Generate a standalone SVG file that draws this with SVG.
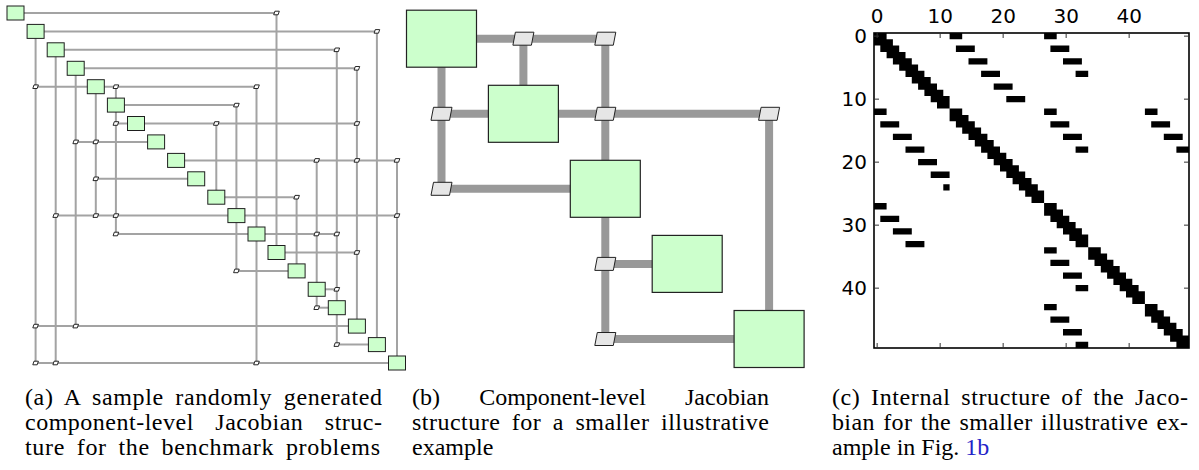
<svg xmlns="http://www.w3.org/2000/svg" width="1199" height="470" viewBox="0 0 1199 470">
  <defs>
    <style>
      .wa{stroke:#a3a3a3;stroke-width:2;fill:none}
      .na{fill:#ccffcc;stroke:#1e1e1e;stroke-width:1}
      .ja{fill:#ffffff;stroke:#111111;stroke-width:0.9}
      .wb{stroke:#999999;stroke-width:8;fill:none}
      .nb{fill:#ccffcc;stroke:#222222;stroke-width:1.2}
      .jb{fill:#e6e6e6;stroke:#222222;stroke-width:1}
      .cell{fill:#000000}
      .frame{fill:none;stroke:#000000;stroke-width:1.6}
      .tick{stroke:#333333;stroke-width:1}
      .lab{font-family:"DejaVu Sans",sans-serif;font-size:20px;fill:#000000}
      .cap{font-family:"Liberation Serif","Times New Roman",serif;font-size:24px;fill:#000000}
    </style>
    <path id="jaShape" d="M-2.8 1.8 L-1.6 -1.8 L2.8 -1.8 L1.6 1.8 Z"/>
    <path id="jbShape" d="M-8 -6.5 L10.5 -6.5 L8 6.5 L-10.5 6.5 Z"/>
  </defs>

  <!-- ===== Panel (a): 20-component random structure ===== -->
  <g id="a-connectors">
    <!-- rows -->
    <path class="wa" d="M15.5 13H276.5"/>
    <path class="wa" d="M35.6 31.4H376.9"/>
    <path class="wa" d="M55.7 49.8H336.8"/>
    <path class="wa" d="M75.7 68.3H356.9"/>
    <path class="wa" d="M35.6 86.7H256.5"/>
    <path class="wa" d="M115.9 105.1H236.4"/>
    <path class="wa" d="M115.9 123.5H356.9"/>
    <path class="wa" d="M75.7 141.9H156.1"/>
    <path class="wa" d="M176.1 160.4H397"/>
    <path class="wa" d="M95.8 178.8H196.2"/>
    <path class="wa" d="M216.3 197.2H296.6"/>
    <path class="wa" d="M55.7 215.6H397"/>
    <path class="wa" d="M115.9 234H336.8"/>
    <path class="wa" d="M276.5 252.5H356.9"/>
    <path class="wa" d="M236.4 270.9H296.6"/>
    <path class="wa" d="M316.7 289.3H336.8"/>
    <path class="wa" d="M316.7 307.7H336.8"/>
    <path class="wa" d="M35.6 326.1H356.9"/>
    <path class="wa" d="M336.8 344.6H376.9"/>
    <path class="wa" d="M35.6 363H397"/>
    <!-- columns -->
    <path class="wa" d="M35.6 31.4V363"/>
    <path class="wa" d="M55.7 49.8V363"/>
    <path class="wa" d="M75.7 68.3V326.1"/>
    <path class="wa" d="M95.8 86.7V215.6"/>
    <path class="wa" d="M115.9 86.7V234"/>
    <path class="wa" d="M216.3 123.5V197.2"/>
    <path class="wa" d="M236.4 105.1V270.9"/>
    <path class="wa" d="M256.5 86.7V363"/>
    <path class="wa" d="M276.5 13V252.5"/>
    <path class="wa" d="M296.6 197.2V270.9"/>
    <path class="wa" d="M316.7 160.4V307.7"/>
    <path class="wa" d="M336.8 49.8V344.6"/>
    <path class="wa" d="M356.9 68.3V326.1"/>
    <path class="wa" d="M376.9 31.4V344.6"/>
    <path class="wa" d="M397 160.4V363"/>
  </g>

  <g id="a-junctions" class="ja">
    <use id="aj-0-13" href="#jaShape" x="276.5" y="13"/>
    <use id="aj-1-18" href="#jaShape" x="376.9" y="31.4"/>
    <use id="aj-2-16" href="#jaShape" x="336.8" y="49.8"/>
    <use id="aj-3-17" href="#jaShape" x="356.9" y="68.3"/>
    <use id="aj-4-1" href="#jaShape" x="35.6" y="86.7"/>
    <use id="aj-4-5" href="#jaShape" x="115.9" y="86.7"/>
    <use id="aj-4-12" href="#jaShape" x="256.5" y="86.7"/>
    <use id="aj-5-11" href="#jaShape" x="236.4" y="105.1"/>
    <use id="aj-6-5" href="#jaShape" x="115.9" y="123.5"/>
    <use id="aj-6-10" href="#jaShape" x="216.3" y="123.5"/>
    <use id="aj-6-17" href="#jaShape" x="356.9" y="123.5"/>
    <use id="aj-7-3" href="#jaShape" x="75.7" y="141.9"/>
    <use id="aj-7-4" href="#jaShape" x="95.8" y="141.9"/>
    <use id="aj-8-15" href="#jaShape" x="316.7" y="160.4"/>
    <use id="aj-8-17" href="#jaShape" x="356.9" y="160.4"/>
    <use id="aj-8-19" href="#jaShape" x="397" y="160.4"/>
    <use id="aj-9-4" href="#jaShape" x="95.8" y="178.8"/>
    <use id="aj-10-14" href="#jaShape" x="296.6" y="197.2"/>
    <use id="aj-11-2" href="#jaShape" x="55.7" y="215.6"/>
    <use id="aj-11-4" href="#jaShape" x="95.8" y="215.6"/>
    <use id="aj-11-5" href="#jaShape" x="115.9" y="215.6"/>
    <use id="aj-11-19" href="#jaShape" x="397" y="215.6"/>
    <use id="aj-12-5" href="#jaShape" x="115.9" y="234"/>
    <use id="aj-12-15" href="#jaShape" x="316.7" y="234"/>
    <use id="aj-12-16" href="#jaShape" x="336.8" y="234"/>
    <use id="aj-13-17" href="#jaShape" x="356.9" y="252.5"/>
    <use id="aj-14-11" href="#jaShape" x="236.4" y="270.9"/>
    <use id="aj-15-16" href="#jaShape" x="336.8" y="289.3"/>
    <use id="aj-16-15" href="#jaShape" x="316.7" y="307.7"/>
    <use id="aj-17-1" href="#jaShape" x="35.6" y="326.1"/>
    <use id="aj-17-3" href="#jaShape" x="75.7" y="326.1"/>
    <use id="aj-18-16" href="#jaShape" x="336.8" y="344.6"/>
    <use id="aj-19-1" href="#jaShape" x="35.6" y="363"/>
    <use id="aj-19-2" href="#jaShape" x="55.7" y="363"/>
    <use id="aj-19-12" href="#jaShape" x="256.5" y="363"/>
  </g>

  <g id="a-nodes" class="na">
    <g id="a0"><rect x="7" y="6" width="17" height="14"/></g>
    <g id="a1"><rect x="27.1" y="24.4" width="17" height="14"/></g>
    <g id="a2"><rect x="47.2" y="42.8" width="17" height="14"/></g>
    <g id="a3"><rect x="67.2" y="61.3" width="17" height="14"/></g>
    <g id="a4"><rect x="87.3" y="79.7" width="17" height="14"/></g>
    <g id="a5"><rect x="107.4" y="98.1" width="17" height="14"/></g>
    <g id="a6"><rect x="127.5" y="116.5" width="17" height="14"/></g>
    <g id="a7"><rect x="147.6" y="134.9" width="17" height="14"/></g>
    <g id="a8"><rect x="167.6" y="153.4" width="17" height="14"/></g>
    <g id="a9"><rect x="187.7" y="171.8" width="17" height="14"/></g>
    <g id="a10"><rect x="207.8" y="190.2" width="17" height="14"/></g>
    <g id="a11"><rect x="227.9" y="208.6" width="17" height="14"/></g>
    <g id="a12"><rect x="248" y="227" width="17" height="14"/></g>
    <g id="a13"><rect x="268" y="245.5" width="17" height="14"/></g>
    <g id="a14"><rect x="288.1" y="263.9" width="17" height="14"/></g>
    <g id="a15"><rect x="308.2" y="282.3" width="17" height="14"/></g>
    <g id="a16"><rect x="328.3" y="300.7" width="17" height="14"/></g>
    <g id="a17"><rect x="348.4" y="319.1" width="17" height="14"/></g>
    <g id="a18"><rect x="368.4" y="337.6" width="17" height="14"/></g>
    <g id="a19"><rect x="388.5" y="356" width="17" height="14"/></g>
  </g>

  <!-- ===== Panel (b): five-component example ===== -->
  <g id="b-connectors">
    <path class="wb" d="M441.5 38.7H605.3"/>
    <path class="wb" d="M523.4 38.7V113.8"/>
    <path class="wb" d="M605.3 38.7V188.8"/>
    <path class="wb" d="M605.3 188.8V339"/>
    <path class="wb" d="M441.5 38.7V188.8"/>
    <path class="wb" d="M441.5 113.8H769.1"/>
    <path class="wb" d="M769.1 113.8V339"/>
    <path class="wb" d="M441.5 188.8H605.3"/>
    <path class="wb" d="M605.3 263.9H687.2"/>
    <path class="wb" d="M605.3 339H769.1"/>
  </g>

  <g id="b-junctions" class="jb">
    <g id="bj1"><use href="#jbShape" x="523.4" y="38.7"/></g>
    <g id="bj2"><use href="#jbShape" x="605.3" y="38.7"/></g>
    <g id="bj3"><use href="#jbShape" x="441.5" y="113.8"/></g>
    <g id="bj4"><use href="#jbShape" x="605.3" y="113.8"/></g>
    <g id="bj5"><use href="#jbShape" x="769.1" y="113.8"/></g>
    <g id="bj6"><use href="#jbShape" x="441.5" y="188.8"/></g>
    <g id="bj7"><use href="#jbShape" x="605.3" y="263.9"/></g>
    <g id="bj8"><use href="#jbShape" x="605.3" y="339"/></g>
  </g>

  <g id="b-nodes" class="nb">
    <g id="b1"><rect x="406.5" y="10.2" width="70" height="57"/></g>
    <g id="b2"><rect x="488.4" y="85.3" width="70" height="57"/></g>
    <g id="b3"><rect x="570.3" y="160.3" width="70" height="57"/></g>
    <g id="b4"><rect x="652.2" y="235.4" width="70" height="57"/></g>
    <g id="b5"><rect x="734.1" y="310.5" width="70" height="57"/></g>
  </g>

  <!-- ===== Panel (c): 50x50 sparsity pattern ===== -->
  <g id="c-plot">
    <g transform="translate(874 33) scale(6.3)">
      <!-- diagonal blocks (tridiagonal within each component) -->
      <path class="cell" d="M0 0h2v1h-2z M0 1h3v1h-3z M1 2h3v1h-3z M2 3h3v1h-3z M3 4h3v1h-3z M4 5h3v1h-3z M5 6h3v1h-3z M6 7h3v1h-3z M7 8h3v1h-3z M8 9h3v1h-3z M9 10h3v1h-3z M10 11h2v1h-2z
        M12 12h2v1h-2z M12 13h3v1h-3z M13 14h3v1h-3z M14 15h3v1h-3z M15 16h3v1h-3z M16 17h3v1h-3z M17 18h3v1h-3z M18 19h3v1h-3z M19 20h3v1h-3z M20 21h3v1h-3z M21 22h3v1h-3z M22 23h3v1h-3z M23 24h3v1h-3z M24 25h3v1h-3z M25 26h2v1h-2z
        M27 27h2v1h-2z M27 28h3v1h-3z M28 29h3v1h-3z M29 30h3v1h-3z M30 31h3v1h-3z M31 32h3v1h-3z M32 33h2v1h-2z
        M34 34h2v1h-2z M34 35h3v1h-3z M35 36h3v1h-3z M36 37h3v1h-3z M37 38h3v1h-3z M38 39h3v1h-3z M39 40h3v1h-3z M40 41h3v1h-3z M41 42h2v1h-2z
        M43 43h2v1h-2z M43 44h3v1h-3z M44 45h3v1h-3z M45 46h3v1h-3z M46 47h3v1h-3z M47 48h3v1h-3z M48 49h2v1h-2z"/>
      <!-- coupling entries between components -->
      <path class="cell" d="M12 0h2v1h-2z M13 2h3v1h-3z M15 4h3v1h-3z M17 6h3v1h-3z M19 8h3v1h-3z M21 10h3v1h-3z
        M27 0h2v1h-2z M28 2h3v1h-3z M30 4h3v1h-3z M32 6h2v1h-2z
        M0 12h2v1h-2z M1 14h3v1h-3z M3 16h3v1h-3z M5 18h3v1h-3z M7 20h3v1h-3z M9 22h3v1h-3z M11 24h1v1h-1z
        M27 12h2v1h-2z M28 14h3v1h-3z M30 16h3v1h-3z M32 18h2v1h-2z
        M43 12h2v1h-2z M44 14h3v1h-3z M46 16h3v1h-3z M48 18h2v1h-2z
        M0 27h2v1h-2z M1 29h3v1h-3z M3 31h3v1h-3z M5 33h3v1h-3z
        M27 34h2v1h-2z M28 36h3v1h-3z M30 38h3v1h-3z M32 40h2v1h-2z
        M27 43h2v1h-2z M28 45h3v1h-3z M30 47h3v1h-3z M32 49h2v1h-2z"/>
    </g>
    <!-- axes frame and ticks -->
    <rect class="frame" x="874" y="33" width="315" height="315"/>
    <path class="tick" d="M877.15 33v5 M940.15 33v5 M1003.15 33v5 M1066.15 33v5 M1129.15 33v5
      M877.15 348v-5 M940.15 348v-5 M1003.15 348v-5 M1066.15 348v-5 M1129.15 348v-5
      M874 36.15h5 M874 99.15h5 M874 162.15h5 M874 225.15h5 M874 288.15h5
      M1189 36.15h-5 M1189 99.15h-5 M1189 162.15h-5 M1189 225.15h-5 M1189 288.15h-5"/>
    <g class="lab" text-anchor="middle">
      <text x="877.15" y="22.7">0</text>
      <text x="940.15" y="22.7">10</text>
      <text x="1003.15" y="22.7">20</text>
      <text x="1066.15" y="22.7">30</text>
      <text x="1129.15" y="22.7">40</text>
    </g>
    <g class="lab" text-anchor="end">
      <text x="867" y="43.4">0</text>
      <text x="867" y="106.4">10</text>
      <text x="867" y="169.4">20</text>
      <text x="867" y="232.4">30</text>
      <text x="867" y="295.4">40</text>
    </g>
  </g>

  <!-- ===== Captions (justified lines: extra width shared by word gaps and letters) ===== -->
  <g id="captions" class="cap">
    <text x="25" y="405" word-spacing="5" textLength="357" lengthAdjust="spacing">(a) A sample randomly generated</text>
    <text x="25" y="430" word-spacing="15" textLength="357" lengthAdjust="spacing">component-level Jacobian struc-</text>
    <text x="25" y="455" word-spacing="5" textLength="355" lengthAdjust="spacing">ture for the benchmark problems</text>

    <text x="412" y="405">(b)</text>
    <text x="562.5" y="405" text-anchor="middle">Component-level</text>
    <text x="769" y="405" text-anchor="end">Jacobian</text>
    <text x="412" y="430" word-spacing="5" textLength="357" lengthAdjust="spacing">structure for a smaller illustrative</text>
    <text x="412" y="455">example</text>

    <text x="832" y="405" word-spacing="4" textLength="356" lengthAdjust="spacing">(c) Internal structure of the Jaco-</text>
    <text x="832" y="430" word-spacing="2" textLength="356" lengthAdjust="spacing">bian for the smaller illustrative ex-</text>
    <text x="832" y="455">ample in Fig. <tspan fill="#2424c8">1b</tspan></text>
  </g>
</svg>
